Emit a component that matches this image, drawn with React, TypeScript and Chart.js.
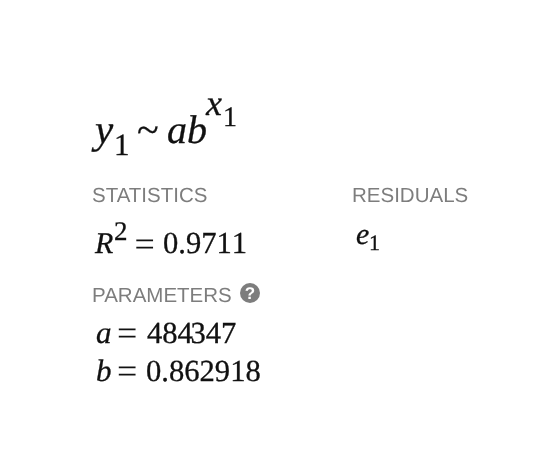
import { Chart, registerables } from 'chart.js';
import React, { useRef, useEffect } from 'react';

Chart.register(...registerables);

const sectionTitles = ['STATISTICS', 'RESIDUALS', 'PARAMETERS'];
const rSquared = '0.9711';
const paramA = ['484', '347'];
const paramB = '0.862918';

const SERIF = '"Liberation Serif", serif';
const SANS = '"Liberation Sans", sans-serif';
const INK = '#111111';
const GREY = '#7d7d7d';

const put = (ctx: any, text: string, x: number, y: number, size: number, italic = false) => {
    ctx.font = `${italic ? 'italic ' : ''}${size}px ${SERIF}`;
    ctx.fontKerning = 'none';
    ctx.fillStyle = INK;
    ctx.strokeStyle = INK;
    ctx.lineWidth = 0.3;
    ctx.fillText(text, x, y);
    ctx.strokeText(text, x, y);
};

// the equals signs are long and thin in the original, so no stroke on them
const equals = (ctx: any, x: number, y: number) => {
    ctx.font = `36px ${SERIF}`;
    ctx.fillStyle = INK;
    ctx.fillText('=', x, y);
};

const title = (ctx: any, text: string, x: number, y: number) => {
    ctx.font = `20.5px ${SANS}`;
    ctx.fontKerning = 'normal';
    ctx.fillStyle = GREY;
    ctx.fillText(text, x, y);
};

const panelText = {
    id: 'panelText',
    afterDraw(chart: Chart) {
        const ctx = chart.ctx as any;
        ctx.save();
        ctx.textAlign = 'left';
        ctx.textBaseline = 'alphabetic';
        ctx.textRendering = 'geometricPrecision';

        // model
        put(ctx, 'y', 95, 143, 41, true);
        put(ctx, '1', 114, 155, 31);
        put(ctx, '~', 137, 143, 40);
        put(ctx, 'a', 167, 143, 40, true);
        put(ctx, 'b', 187, 143, 40, true);
        put(ctx, 'x', 206, 115, 36, true);
        put(ctx, '1', 223, 126, 28);

        // statistics
        title(ctx, sectionTitles[0], 92, 202);
        put(ctx, 'R', 95, 253, 30, true);
        put(ctx, '2', 114, 240, 27);
        equals(ctx, 134.5, 256);
        put(ctx, rSquared, 163, 253, 30.6);

        // residuals
        title(ctx, sectionTitles[1], 352, 202);
        put(ctx, 'e', 356, 244, 30, true);
        put(ctx, '1', 369, 250, 22);

        // parameters
        title(ctx, sectionTitles[2], 92, 302);
        ctx.beginPath();
        ctx.arc(250, 293, 10, 0, Math.PI * 2);
        ctx.fillStyle = GREY;
        ctx.fill();
        ctx.font = `bold 17px ${SANS}`;
        ctx.fillStyle = '#ffffff';
        ctx.textAlign = 'center';
        ctx.fillText('?', 250, 299);
        ctx.textAlign = 'left';

        put(ctx, 'a', 96, 343, 31, true);
        equals(ctx, 117, 345);
        put(ctx, paramA[0], 147, 343, 30.6);
        put(ctx, paramA[1], 190.5, 343, 30.6);
        put(ctx, 'b', 96, 381, 31, true);
        equals(ctx, 117, 383);
        put(ctx, paramB, 146, 381, 30.6);

        ctx.restore();
    }
};

const App = () => {
    const chartRef = useRef<HTMLCanvasElement>(null);

    useEffect(() => {
        if (!chartRef.current) return;
        document.body.style.margin = '0';

        const chart = new Chart(chartRef.current, {
            type: 'scatter',
            data: { datasets: [] },
            options: {
                responsive: false,
                animation: false,
                devicePixelRatio: 1,
                scales: {
                    x: { display: false },
                    y: { display: false }
                },
                plugins: {
                    legend: { display: false },
                    tooltip: { enabled: false }
                }
            },
            plugins: [panelText]
        });

        return () => {
            chart.destroy();
        };
    }, []);

    return <canvas ref={chartRef} width={558} height={466} style={{ display: 'block' }}></canvas>;
};

export default App;
